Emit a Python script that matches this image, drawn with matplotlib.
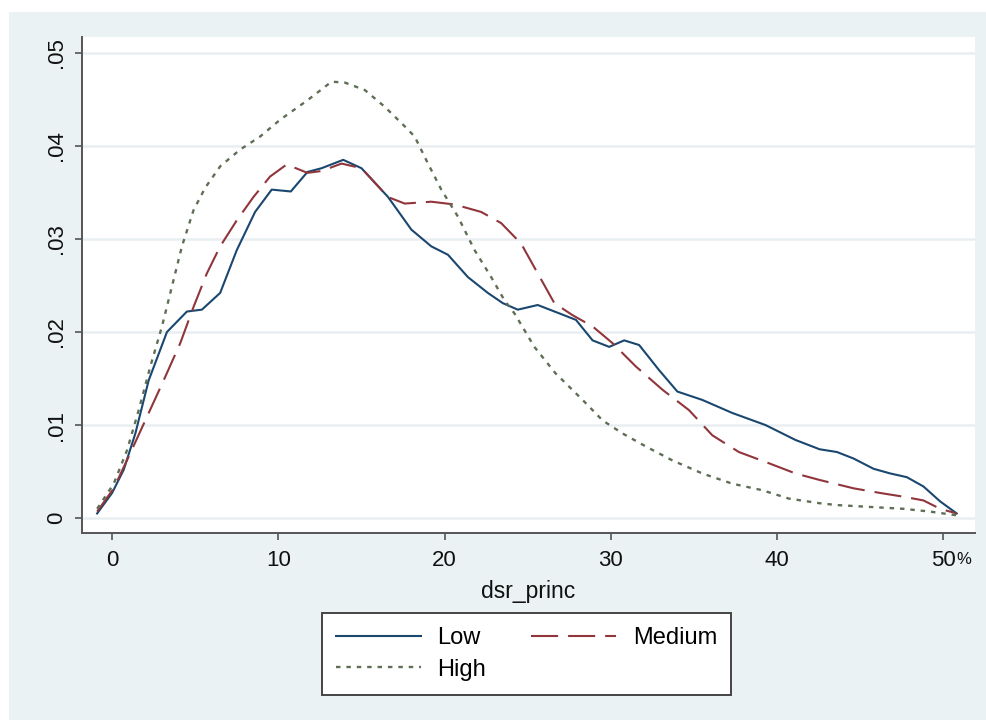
import matplotlib
matplotlib.use("Agg")
import matplotlib.pyplot as plt
from matplotlib.patches import Rectangle

# Dados (densidade por dsr_princ)
low_x = [-0.9, 0.0, 0.7, 1.4, 2.2, 3.3, 4.5, 5.4, 6.5, 7.5, 8.6, 9.6, 10.75, 11.75, 12.6, 13.9,
         15.0, 16.6, 18.0, 19.2, 20.2, 21.4, 22.6, 23.5, 24.4, 25.6, 26.9, 27.9, 28.9, 29.9, 30.8,
         31.7, 32.9, 34.0, 35.5, 37.3, 39.3, 41.1, 42.55, 43.6, 44.6, 45.8, 46.8, 47.8, 48.8, 49.8, 50.8]
low_y = [.0005, .0027, .0052, .0091, .0148, .0200, .0222, .0224, .0242, .0288, .0329, .0353, .0351,
         .0372, .0376, .0385, .0376, .0345, .0310, .0292, .0283, .0259, .0242, .0231, .0224, .0229,
         .0220, .0213, .0191, .0184, .0191, .0186, .0159, .0136, .0127, .0113, .0100, .0084, .0074,
         .0071, .0064, .0053, .0048, .0044, .0034, .0018, .0005]

med_x = [-0.9, 0.1, 1.1, 2.1, 3.1, 4.1, 4.9, 5.7, 6.5, 7.5, 8.5, 9.5, 10.5, 11.75, 12.6, 13.8, 15.0,
         16.6, 17.6, 19.2, 20.6, 22.2, 23.4, 24.6, 25.6, 26.6, 27.7, 28.9, 30.1, 31.5, 33.1, 34.7,
         36.1, 37.7, 39.5, 41.1, 42.55, 44.6, 46.2, 47.6, 48.8, 49.8, 50.8]
med_y = [.0007, .0032, .0070, .0109, .0148, .0188, .0227, .0263, .0292, .0320, .0345, .0367, .0380,
         .0371, .0373, .0381, .0376, .0345, .0338, .0340, .0337, .0329, .0317, .0295, .0263, .0231,
         .0218, .0206, .0188, .0163, .0138, .0116, .0089, .0071, .0059, .0048, .0041, .0032, .0027,
         .0023, .0019, .0010, .0005]

high_x = [-0.9, 0.1, 0.9, 1.6, 2.3, 3.0, 3.6, 4.2, 4.9, 5.6, 6.5, 7.7, 8.9, 10.1, 11.75, 13.2, 14.0,
          15.2, 16.4, 17.6, 18.2, 19.0, 19.8, 20.8, 21.8, 22.8, 23.6, 24.2, 25.4, 26.65, 28.3, 29.5,
          30.7, 32.1, 33.7, 35.5, 37.3, 39.1, 40.7, 42.55, 43.6, 45.6, 47.6, 49.2, 50.8]
high_y = [.0010, .0037, .0073, .0116, .0163, .0206, .0249, .0292, .0331, .0355, .0378, .0396, .0410,
          .0428, .0449, .0469, .0468, .0460, .0442, .0421, .0410, .0381, .0353, .0324, .0288, .0259,
          .0234, .0220, .0184, .0156, .0127, .0105, .0091, .0077, .0062, .0048, .0037, .0030, .0021,
          .0016, .0014, .0012, .0010, .0007, .0003]

x_ticks = [0, 10, 20, 30, 40, 50]
x_tick_labels = ['0', '10', '20', '30', '40', '50']
y_ticks = [0, .01, .02, .03, .04, .05]
y_tick_labels = ['0', '.01', '.02', '.03', '.04', '.05']
series_labels = ['Low', 'Medium', 'High']

plt.rcParams['font.family'] = ['Liberation Sans', 'DejaVu Sans']

W, H = 986, 720
fig = plt.figure(figsize=(W / 100, H / 100), dpi=100, facecolor='white')

# Fundo azul claro estilo Stata
fig.patches.append(Rectangle((9 / W, 0), (W - 9) / W, (H - 12) / H, transform=fig.transFigure,
                             facecolor='#eaf2f3', edgecolor='none', zorder=-1))

ax = fig.add_axes([82 / W, 1 - 533 / H, (975 - 82) / W, (533 - 37) / H])
ax.set_facecolor('white')

navy = '#1a476f'
maroon = '#90353b'
green = '#5f6f55'

l1, = ax.plot(low_x, low_y, color=navy, lw=1.5, solid_joinstyle='round')
l2, = ax.plot(med_x, med_y, color=maroon, lw=1.5, dashes=(13, 4.8))
l3, = ax.plot(high_x, high_y, color=green, lw=1.7, dashes=(1.9, 2.5))

ax.set_xlim(-1.81, 51.9)
ax.set_ylim(-0.0016, 0.0517)

ax.set_yticks(y_ticks)
ax.set_yticklabels(y_tick_labels, rotation=90, va='center', fontsize=16)
ax.set_xticks(x_ticks)
ax.set_xticklabels(x_tick_labels, fontsize=16)

ax.tick_params(axis='both', length=5, width=1.2, color='#555555', labelcolor='#111111')
ax.tick_params(axis='x', pad=7)
ax.tick_params(axis='y', pad=6)

ax.grid(axis='y', color='#e9eff1', lw=1.8)
ax.set_axisbelow(True)

for s in ['top', 'right']:
    ax.spines[s].set_visible(False)
for s in ['left', 'bottom']:
    ax.spines[s].set_color('#555555')
    ax.spines[s].set_linewidth(1.4)

# "%" pequeno ao lado do 50
ax.annotate('%', xy=(50, 0), xycoords=('data', 'axes fraction'), xytext=(9, -24.5),
            textcoords='offset points', fontsize=12, color='#111111', ha='left', va='bottom')

ax.set_xlabel('dsr_princ', fontsize=16.5, color='#111111', labelpad=7)

# ordem para que a primeira linha seja Low, Medium e a segunda High
leg = fig.legend([l1, l3, l2], [series_labels[0], series_labels[2], series_labels[1]],
                 loc='center', ncol=2,
                 bbox_to_anchor=(526.5 / W, 1 - 654 / H), fontsize=17,
                 handlelength=3.6, handletextpad=0.7, columnspacing=1.9,
                 labelspacing=0.4, borderpad=0.6, fancybox=False, framealpha=1)
leg.get_frame().set_edgecolor('#444444')
leg.get_frame().set_linewidth(1.4)

fig.savefig('out.png', dpi=100, facecolor=fig.get_facecolor())
